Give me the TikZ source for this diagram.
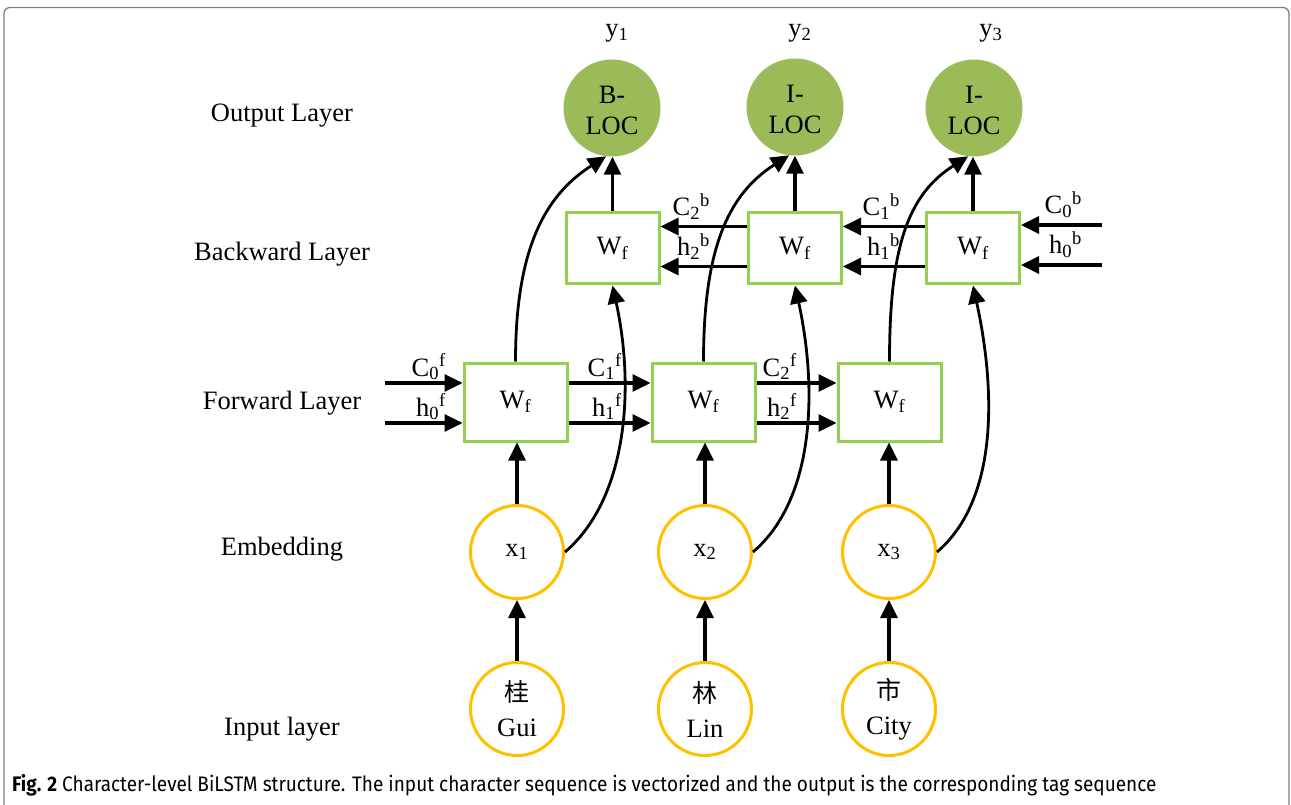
\documentclass[tikz,border=0pt]{standalone}
\usepackage{fontspec}
\setmainfont{Liberation Serif}
\newfontfamily\cjk{Noto Sans CJK SC}
\newfontfamily\capfont[FakeStretch=0.905]{Fira Sans}
\usetikzlibrary{arrows.meta,calc}
\definecolor{boxgreen}{HTML}{92D050}
\definecolor{outgreen}{HTML}{9BBB59}
\definecolor{embgold}{HTML}{FFC000}
\definecolor{framegray}{HTML}{808080}

\begin{document}
\begin{tikzpicture}[x=1pt,y=-1pt,
  txt/.style={font=\fontsize{26.5}{31}\selectfont, inner sep=0},
  layername/.style={txt, anchor=base},
  outnode/.style={circle, fill=outgreen, minimum size=97pt, inner sep=0},
  tagtext/.style={txt, align=center},
  bwcell/.style={rectangle, draw=boxgreen, line width=3pt, minimum width=93pt,
                 minimum height=71pt, inner sep=0, font=\fontsize{26.5}{31}\selectfont},
  fwcell/.style={rectangle, draw=boxgreen, line width=3pt, minimum width=103pt,
                 minimum height=78pt, inner sep=0, font=\fontsize{26.5}{31}\selectfont},
  ring/.style={circle, draw=embgold, line width=3pt, minimum size=93pt, inner sep=0,
               align=center, font=\fontsize{26.5}{35}\selectfont},
  arr/.style={line width=3.2pt, -{Triangle[length=18pt,width=17pt]}},
  curvearr/.style={line width=2.8pt, -{Triangle[length=18pt,width=17pt]}},
  statelbl/.style={txt, anchor=base east},
]
\useasboundingbox (0,0) rectangle (1291,805);

% frame around the figure
\draw[framegray, line width=1.3pt, rounded corners=6pt]
  (4,806) -- (4,7.5) -- (1289,7.5) -- (1289,806);

% layer names
\node[layername] (lout) at (282,122) {Output Layer};
\node[layername] (lbw)  at (282,261) {Backward Layer};
\node[layername] (lfw)  at (282,409) {Forward Layer};
\node[layername] (lemb) at (282,555) {Embedding};
\node[layername] (lin)  at (282,735) {Input layer};

% output tags
\node[txt, anchor=base] (y1) at (617,37) {y\textsubscript{1}};
\node[txt, anchor=base] (y2) at (800,37) {y\textsubscript{2}};
\node[txt, anchor=base] (y3) at (991,37) {y\textsubscript{3}};
\node[outnode] (o1) at (612,108) {};
\node[outnode] (o2) at (795,107) {};
\node[outnode] (o3) at (974,108) {};
\node[tagtext] (t1) at (612,110) {B-\\LOC};
\node[tagtext] (t2) at (795,109) {I-\\LOC};
\node[tagtext] (t3) at (974,110) {I-\\LOC};

% backward cells
\node[bwcell] (b1) at (612.5,248.5) {W\textsubscript{f}};
\node[bwcell] (b2) at (795,248.5) {W\textsubscript{f}};
\node[bwcell] (b3) at (973,248.5) {W\textsubscript{f}};

% forward cells
\node[fwcell] (f1) at (515.5,402) {W\textsubscript{f}};
\node[fwcell] (f2) at (703.5,402) {W\textsubscript{f}};
\node[fwcell] (f3) at (889.5,402) {W\textsubscript{f}};

% embeddings
\node[ring] (e1) at (517,552) {\raisebox{-5pt}{x\textsubscript{1}}};
\node[ring] (e2) at (705,552) {\raisebox{-5pt}{x\textsubscript{2}}};
\node[ring] (e3) at (889,552) {\raisebox{-5pt}{x\textsubscript{3}}};

% input characters
\node[ring] (i1) at (517,709) {{\cjk\fontsize{25}{25}\selectfont 桂}\\Gui};
\node[ring] (i2) at (705,709) {{\cjk\fontsize{25}{25}\selectfont 林}\\Lin};
\node[ring] (i3) at (889,709) {{\cjk\fontsize{25}{25}\selectfont 市}\\City};

% input -> embedding -> forward, and both directions -> output
\foreach \k in {1,2,3} {
  \draw[arr] (i\k.north) -- (e\k.south);
  \draw[arr] (e\k.north) -- (e\k.north |- f\k.south);
  \draw[arr] (b\k.north) -- (b\k.north |- o\k.south);
  \draw[curvearr] (f\k.north) .. controls ($(f\k.north)+(0,-113)$)
        and ($(o\k.-97)+(-61,39)$) .. (o\k.-97);
  \draw[curvearr] (e\k.east) .. controls ($(e\k.east)+(61,-52)$)
        and ($(b\k.south)+(23,106)$) .. (b\k.south);
}

% forward states
\coordinate (c0f) at (385,383);
\coordinate (h0f) at (385,423);
\draw[arr] (c0f) -- (c0f -| f1.west);
\draw[arr] (h0f) -- (h0f -| f1.west);
\draw[arr] ([yshift=19pt]f1.east) -- ([yshift=19pt]f2.west);
\draw[arr] ([yshift=-21pt]f1.east) -- ([yshift=-21pt]f2.west);
\draw[arr] ([yshift=19pt]f2.east) -- ([yshift=19pt]f3.west);
\draw[arr] ([yshift=-21pt]f2.east) -- ([yshift=-21pt]f3.west);
\node[statelbl] (lc0f) at (446,376) {C\textsubscript{0}\textsuperscript{f}};
\node[statelbl] (lh0f) at (446,416) {h\textsubscript{0}\textsuperscript{f}};
\node[statelbl] (lc1f) at (622,376) {C\textsubscript{1}\textsuperscript{f}};
\node[statelbl] (lh1f) at (622,416) {h\textsubscript{1}\textsuperscript{f}};
\node[statelbl] (lc2f) at (797,376) {C\textsubscript{2}\textsuperscript{f}};
\node[statelbl] (lh2f) at (797,416) {h\textsubscript{2}\textsuperscript{f}};

% backward states
\coordinate (c0b) at (1102,225);
\coordinate (h0b) at (1102,265);
\draw[arr] (c0b) -- (c0b -| b3.east);
\draw[arr] (h0b) -- (h0b -| b3.east);
\draw[arr] ([yshift=22pt]b3.west) -- ([yshift=22pt]b2.east);
\draw[arr] ([yshift=-18pt]b3.west) -- ([yshift=-18pt]b2.east);
\draw[arr] ([yshift=22pt]b2.west) -- ([yshift=22pt]b1.east);
\draw[arr] ([yshift=-18pt]b2.west) -- ([yshift=-18pt]b1.east);
\node[statelbl] (lc2b) at (710,216) {C\textsubscript{2}\textsuperscript{b}};
\node[statelbl] (lh2b) at (710,256) {h\textsubscript{2}\textsuperscript{b}};
\node[statelbl] (lc1b) at (900,216) {C\textsubscript{1}\textsuperscript{b}};
\node[statelbl] (lh1b) at (900,256) {h\textsubscript{1}\textsuperscript{b}};
\node[statelbl] (lc0b) at (1082,214) {C\textsubscript{0}\textsuperscript{b}};
\node[statelbl] (lh0b) at (1082,254) {h\textsubscript{0}\textsuperscript{b}};

% caption
\node[anchor=base west, inner sep=0] (cap) at (12,791)
  {\capfont\fontsize{21}{24}\selectfont\textbf{Fig. 2} Character-level BiLSTM structure. The input character sequence is vectorized and the output is the corresponding tag sequence};
\end{tikzpicture}
\end{document}
